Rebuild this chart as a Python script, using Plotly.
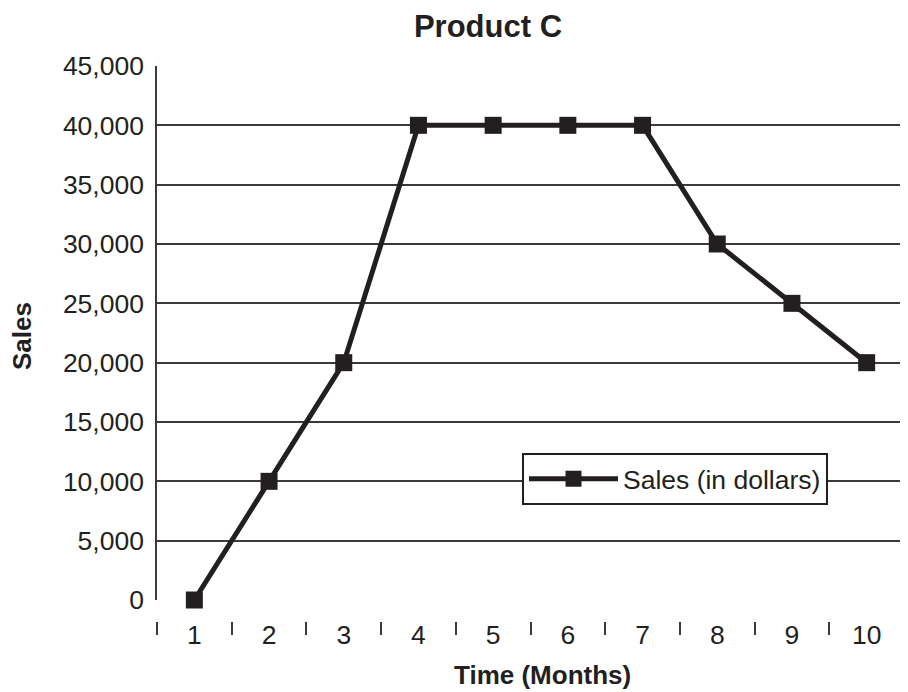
import plotly.graph_objects as go

months = ["1", "2", "3", "4", "5", "6", "7", "8", "9", "10"]
sales = [0, 10000, 20000, 40000, 40000, 40000, 40000, 30000, 25000, 20000]
y_ticks = [0, 5000, 10000, 15000, 20000, 25000, 30000, 35000, 40000, 45000]

INK = "#231f20"
GRID = "#3a3a3a"
FONT = "Liberation Sans, Arial, Helvetica, sans-serif"

# The page body has an 8px default margin; work in page pixels and convert.
OFF = 8
W, H = 908 - OFF, 692 - OFF
PLOT_L, PLOT_R, PLOT_T, PLOT_B = 157, 904, 66, 640   # page px of plotting area
L = PLOT_L - OFF
T = PLOT_T - OFF
R = W - (PLOT_R - OFF)
B = H - (PLOT_B - OFF)
pw = W - L - R
ph = H - T - B


def px_x(p):
    return (p - OFF - L) / pw


def px_y(p):
    return (H - B - (p - OFF)) / ph


fig = go.Figure()
fig.add_trace(go.Scatter(
    x=months, y=sales, mode="lines+markers", name="Sales (in dollars)",
    line=dict(color=INK, width=5),
    marker=dict(symbol="square", size=17, color=INK),
    cliponaxis=False,
))

fig.update_layout(
    width=W, height=H,
    margin=dict(l=L, r=R, t=T, b=B, autoexpand=False),
    paper_bgcolor="white", plot_bgcolor="white",
    font=dict(family=FONT, color=INK, size=26),
    title=dict(text="<b>Product C</b>", xref="container", yref="container",
               x=(488 - OFF) / W, xanchor="center",
               y=1 - (26 - OFF) / H, yanchor="middle",
               font=dict(size=31, color=INK)),
    showlegend=True,
    legend=dict(x=px_x(522), y=px_y(453), xanchor="left", yanchor="top",
                bgcolor="white", bordercolor=INK, borderwidth=2,
                font=dict(size=26.5, color=INK), itemwidth=89),
    xaxis=dict(type="category", categoryorder="array", categoryarray=months,
               range=[-0.5, 9.5], anchor="free", position=px_y(621),
               showgrid=False, showline=False, zeroline=False,
               ticks="outside", tickson="boundaries", ticklen=13, tickwidth=1.5,
               tickcolor=GRID, ticklabelstandoff=-5,
               tickfont=dict(size=26.5, color=INK)),
    yaxis=dict(domain=[px_y(600), 1], range=[0, 45000], tickvals=y_ticks,
               tickformat=",", showgrid=True, gridcolor=GRID, gridwidth=1.5,
               zeroline=False, showline=True, linecolor=GRID, linewidth=1.5,
               ticks="", ticklabelstandoff=6, tickfont=dict(size=26.5, color=INK)),
)

fig.add_annotation(text="<b>Time (Months)</b>", xref="paper", yref="paper",
                   x=px_x(542), y=px_y(675),
                   xanchor="center", yanchor="middle", showarrow=False,
                   font=dict(size=26, color=INK))
fig.add_annotation(text="<b>Sales</b>", xref="paper", yref="paper",
                   x=px_x(22), y=px_y(336),
                   xanchor="center", yanchor="middle", textangle=-90,
                   showarrow=False, font=dict(size=26, color=INK))

fig.write_html("out.html")
